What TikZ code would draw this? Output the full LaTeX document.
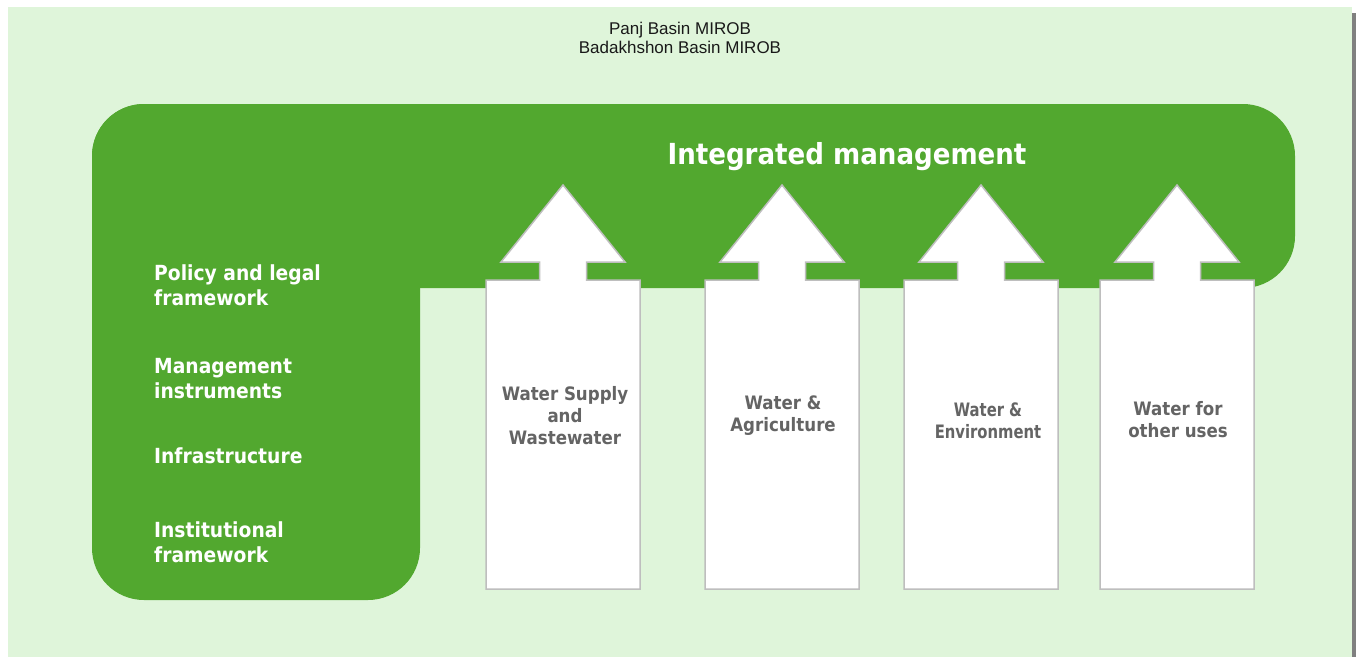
\documentclass[tikz,border=0pt]{standalone}
\usepackage{fontspec}
\setmainfont{Liberation Sans}
\newfontfamily\tah[FakeStretch=0.9]{DejaVu Sans}
\newfontfamily\tahn[FakeStretch=0.8]{DejaVu Sans}
\definecolor{bgg}{RGB}{223,245,218}
\definecolor{maing}{RGB}{82,168,47}
\definecolor{arrline}{RGB}{190,190,190}
\definecolor{arrtext}{RGB}{100,100,100}
\definecolor{shadowg}{RGB}{128,128,128}
\tikzset{
  greenpart/.style={fill=maing, draw=none, rounded corners=52pt},
  uparrow/.style={fill=white, draw=arrline, line width=1.5pt, line join=miter},
  lefttext/.style={text=white, font=\tah\bfseries\fontsize{20.8}{25}\selectfont, align=left, inner sep=0pt, anchor=base west},
  arrowtext/.style={text=arrtext, font=\tah\bfseries\fontsize{18.5}{22}\selectfont, align=center, inner sep=0pt},
  toptext/.style={text=black!90, font=\fontsize{17}{19}\selectfont, align=center, inner sep=0pt}
}
\newcommand{\uparr}[3]{%
  % #1 body left, #2 centre, #3 name
  \draw[uparrow] (#2,185) -- ({#2+62},262) -- ({#2+23.5},262) -- ({#2+23.5},280) -- ({#1+154},280) -- ({#1+154},589) -- (#1,589) -- (#1,280) -- ({#2-23.5},280) -- ({#2-23.5},262) -- ({#2-62},262) -- cycle;
  \coordinate (#3) at (#2,416);
}
\begin{document}
\begin{tikzpicture}[x=1pt,y=-1pt]
\useasboundingbox (0,0) rectangle (1360,657);
\fill[white] (0,0) rectangle (1360,657);
\fill[shadowg] (1352,13) rectangle (1356,657);
\fill[bgg] (8,7) rectangle (1352,657);

\node[toptext] (top) at (680,37.5) {Panj Basin MIROB\\Badakhshon Basin MIROB};

\fill[greenpart] (92,104) rectangle (1295,288);
\fill[greenpart] (92,104) rectangle (420,600);

\node[text=white, font=\tah\bfseries\fontsize{29}{34}\selectfont, inner sep=0pt] (im) at (847,157) {Integrated management};

\node[lefttext] (pol) at (154,305) {Policy and legal\\framework};
\node[lefttext] (man) at (154,398) {Management\\instruments};
\node[lefttext] (inf) at (154,463) {Infrastructure};
\node[lefttext] (ins) at (154,562) {Institutional\\framework};

\uparr{486}{563}{a1}
\uparr{705}{782}{a2}
\uparr{904}{981}{a3}
\uparr{1100}{1177}{a4}

\node[arrowtext] (t1) at (565,416) {Water Supply\\and\\Wastewater};
\node[arrowtext] (t2) at (783,416) {Water \&\\Agriculture};
\node[arrowtext, font=\tahn\bfseries\fontsize{18.5}{22}\selectfont] (t3) at (988,421) {Water \&\\Environment};
\node[arrowtext] (t4) at (1178,420) {Water for\\other uses};
\end{tikzpicture}
\end{document}
